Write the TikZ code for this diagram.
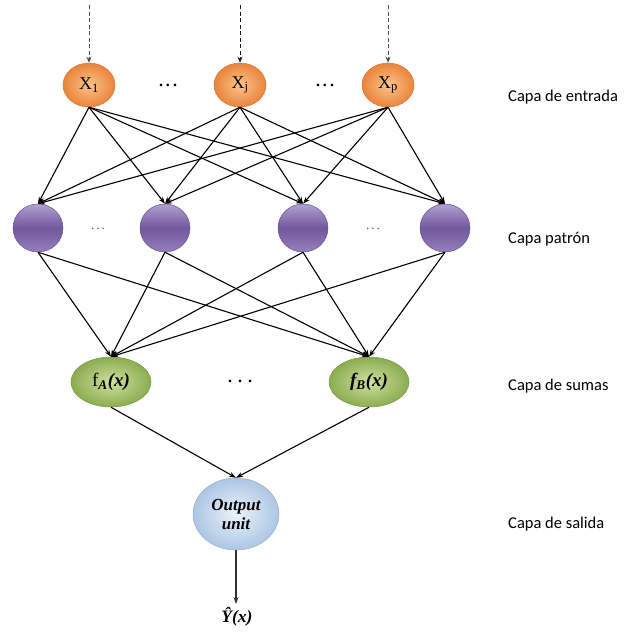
\documentclass[tikz,border=0pt]{standalone}
\usepackage{fontspec}
\setmainfont{Liberation Serif}
\newfontfamily\labelfont{Carlito}
\usetikzlibrary{shapes.geometric,arrows.meta}

\definecolor{orIn}{RGB}{250,196,140}
\definecolor{orOut}{RGB}{234,132,58}
\definecolor{orEdge}{RGB}{215,120,60}
\definecolor{puTop}{RGB}{178,160,210}
\definecolor{puMid}{RGB}{112,88,156}
\definecolor{puBot}{RGB}{150,128,190}
\definecolor{puEdge}{RGB}{100,80,140}
\definecolor{grIn}{RGB}{206,224,160}
\definecolor{grOut}{RGB}{140,172,80}
\definecolor{grEdge}{RGB}{120,150,70}
\definecolor{blIn}{RGB}{236,242,250}
\definecolor{blOut}{RGB}{172,198,228}
\definecolor{blEdge}{RGB}{150,175,205}

\tikzset{
  inputnode/.style={ellipse, minimum width=52pt, minimum height=44pt, inner sep=0pt,
    draw=orEdge, line width=0.5pt, inner color=orIn, outer color=orOut,
    font=\fontsize{18}{18}\selectfont},
  patternnode/.style={ellipse, minimum width=50pt, minimum height=48pt, inner sep=0pt,
    draw=puEdge, line width=0.5pt, top color=puTop, bottom color=puBot, middle color=puMid},
  sumnode/.style={ellipse, minimum width=80pt, minimum height=50pt, inner sep=0pt,
    draw=grEdge, line width=0.5pt, inner color=grIn, outer color=grOut,
    font=\fontsize{19}{19}\selectfont},
  outnode/.style={ellipse, minimum width=86pt, minimum height=72pt, inner sep=0pt,
    draw=blEdge, line width=0.5pt, inner color=blIn, outer color=blOut,
    font=\fontsize{17}{19}\selectfont\bfseries\itshape, align=center},
  link/.style={-{Stealth[length=7pt,width=5pt]}, line width=1.1pt, black},
  feed/.style={-{Stealth[length=6pt,width=5pt]}, dashed, dash pattern=on 4pt off 2.5pt,
    line width=0.8pt, black!70},
  ellips/.style={font=\fontsize{16}{16}\selectfont\bfseries},
  layerlabel/.style={anchor=west, inner sep=0pt, font=\labelfont\fontsize{16.5}{18}\selectfont}
}

\begin{document}
\begin{tikzpicture}[x=1pt, y=-1pt]
\useasboundingbox (0,0) rectangle (631,632);

% input layer
\node[inputnode] (X1) at (89,85) {X\textsubscript{1}};
\node[inputnode] (Xj) at (240,85) {X\textsubscript{j}};
\node[inputnode] (Xp) at (388,85) {X\textsubscript{p}};
\node[ellips] (d1) at (168,85) {.\hspace{3pt}.\hspace{3pt}.};
\node[ellips] (d2) at (325,85) {.\hspace{3pt}.\hspace{3pt}.};

% pattern layer
\node[patternnode] (P1) at (38,228) {};
\node[patternnode] (P2) at (165,228) {};
\node[patternnode] (P3) at (303,228) {};
\node[patternnode] (P4) at (445,228) {};
\node[text=black!70, font=\fontsize{13}{13}\selectfont] (d3) at (98,229) {.\hspace{2pt}.\hspace{2pt}.};
\node[text=black!70, font=\fontsize{13}{13}\selectfont] (d4) at (373,229) {.\hspace{2pt}.\hspace{2pt}.};

% summation layer
\node[sumnode] (SA) at (111,382) {f\textsubscript{\textbf{\textit{A}}}\textbf{\textit{(x)}}};
\node[sumnode] (SB) at (369,382) {\textbf{\textit{f\textsubscript{B}(x)}}};
\node[ellips] (d5) at (240,381) {.\hspace{6pt}.\hspace{6pt}.};

% output layer
\node[outnode] (O) at (236,514) {Output\\unit};
\coordinate (Oend) at (236,604);
\node[font=\fontsize{17.5}{17.5}\selectfont\bfseries\itshape] (Y) at (237,617) {Ŷ(x)};

% incoming inputs
\coordinate (i1) at (89,5);
\coordinate (ij) at (240,5);
\coordinate (ip) at (388,5);
\draw[feed] (i1) -- (X1.north);
\draw[feed, black!90] (ij) -- (Xj.north);
\draw[feed] (ip) -- (Xp.north);

% input to pattern connections
\foreach \a in {X1,Xj,Xp}
  \foreach \b in {P1,P2,P3,P4}
    \draw[link] (\a.south) -- (\b.north);

% pattern to summation connections
\foreach \a in {P1,P2,P3,P4}
  \foreach \b in {SA,SB}
    \draw[link] (\a.south) -- (\b.north);

% summation to output
\draw[link] (SA.south) -- (O.north);
\draw[link] (SB.south) -- (O.north);
\draw[-{Stealth[length=7pt,width=5pt]}, line width=1.4pt, black!80] (O.south) -- (Oend);

% layer names
\node[layerlabel] (L1) at (508,97) {Capa de entrada};
\node[layerlabel] (L2) at (508,239) {Capa patrón};
\node[layerlabel] (L3) at (508,386) {Capa de sumas};
\node[layerlabel] (L4) at (508,524) {Capa de salida};
\end{tikzpicture}
\end{document}
